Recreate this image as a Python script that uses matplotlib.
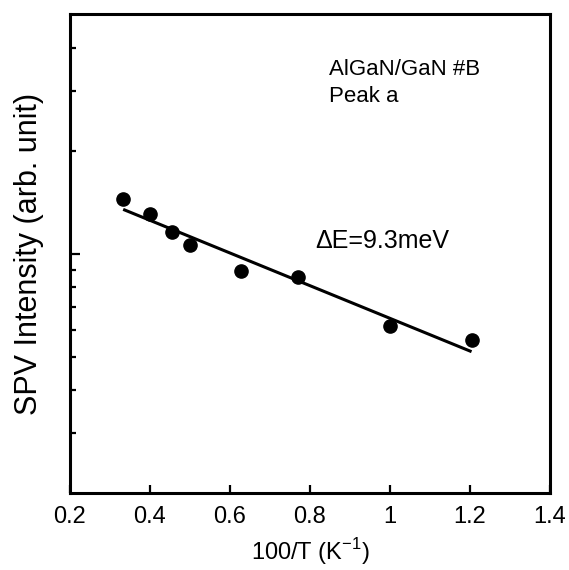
import numpy as np
import matplotlib.pyplot as plt
from matplotlib.ticker import FixedLocator, NullFormatter

plt.rcParams['font.family'] = ['Liberation Sans', 'DejaVu Sans']

# SPV intensity vs inverse temperature, AlGaN/GaN sample #B, peak a
inv_t = [0.333, 0.400, 0.455, 0.500, 0.627, 0.771, 1.000, 1.204]
spv = [1.445, 1.309, 1.162, 1.062, 0.890, 0.858, 0.616, 0.560]

# Arrhenius fit line
fit_x = [0.333, 1.204]
fit_y = [1.35, 0.518]

x_ticks = [0.2, 0.4, 0.6, 0.8, 1.0, 1.2, 1.4]
x_labels = ['0.2', '0.4', '0.6', '0.8', '1', '1.2', '1.4']
y_major = [1]
y_minor = [0.3, 0.4, 0.5, 0.6, 0.7, 0.8, 0.9, 2, 3, 4]

fig = plt.figure(figsize=(5.69, 5.70), dpi=100)
ax = fig.add_axes([0.123, 0.135, 0.8435, 0.8405])

ax.plot(fit_x, fit_y, color='black', lw=2.2, solid_capstyle='butt')
ax.plot(inv_t, spv, 'o', color='black', ms=9.5)

ax.set_yscale('log')
ax.set_xlim(0.2, 1.4)
ax.set_ylim(0.2, 5.03)

ax.set_xticks(x_ticks)
ax.set_xticklabels(x_labels)
ax.yaxis.set_major_locator(FixedLocator(y_major))
ax.yaxis.set_minor_locator(FixedLocator(y_minor))
ax.yaxis.set_major_formatter(NullFormatter())
ax.yaxis.set_minor_formatter(NullFormatter())

for s in ax.spines.values():
    s.set_linewidth(2.2)

ax.tick_params(axis='x', direction='in', length=6, width=1.6, labelsize=17, pad=9)
ax.tick_params(axis='y', which='major', direction='in', length=7.5, width=1.6)
ax.tick_params(axis='y', which='minor', direction='in', length=4, width=1.6)

ax.set_xlabel('100/T (K$^{\\mathregular{-1}}$)', fontsize=17, labelpad=6)
ax.set_ylabel('SPV Intensity (arb. unit)', fontsize=22, labelpad=15)

ax.text(0.54, 0.873, 'AlGaN/GaN #B', transform=ax.transAxes, fontsize=16, va='baseline')
ax.text(0.54, 0.817, 'Peak a', transform=ax.transAxes, fontsize=16, va='baseline')
ax.text(0.51, 0.527, '\u0394E=9.3meV', transform=ax.transAxes, fontsize=18, va='center')

fig.savefig('out.png', dpi=100)
